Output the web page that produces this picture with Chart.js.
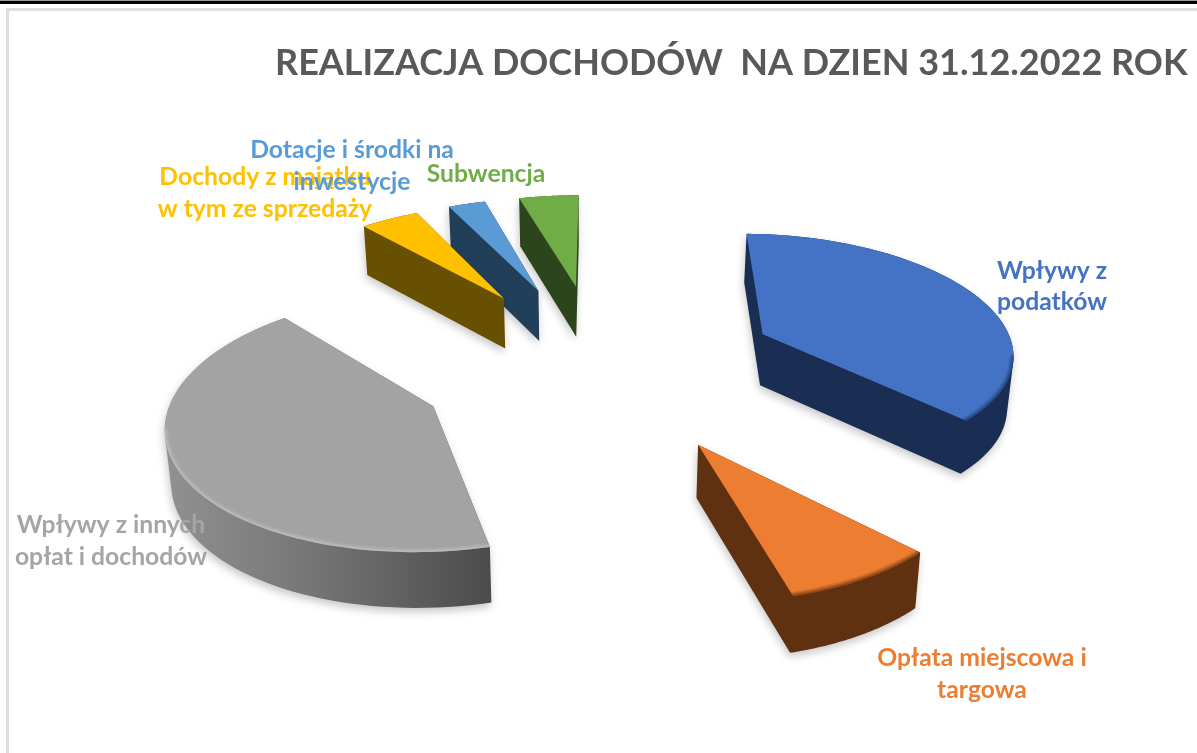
<!DOCTYPE html>
<html lang="pl"><head><meta charset="utf-8"><title>Realizacja dochodów</title>
<script src="https://cdn.jsdelivr.net/npm/chart.js@4"></script>
<style>
html,body{margin:0;padding:0;background:#fff;width:1197px;height:753px;overflow:hidden}
#frame-top{position:absolute;left:0;top:0;width:1197px;height:4px;background:#000;border-top:1px solid #999;box-sizing:border-box}
#frame-in{position:absolute;left:6px;top:8px;width:1191px;height:745px;border-left:3px solid #dedede;border-top:3px solid #dedede;box-sizing:border-box}
canvas{position:absolute;left:0;top:0}
</style></head><body>
<div id="frame-top"></div><div id="frame-in"></div>
<canvas id="c" width="1197" height="753"></canvas>
<script>
const chartTitle = 'REALIZACJA DOCHODÓW  NA DZIEN 31.12.2022 ROK';
const categories = ['Wpływy z podatków','Opłata miejscowa i targowa','Wpływy z innych opłat i dochodów','Dochody z majątku w tym ze sprzedaży','Dotacje i środki na inwestycje','Subwencja'];
const values = [37.4, 8.3, 42.5, 4.4, 2.8, 4.5];
const topColors = ['#4472c4','#ed7d31','#a3a3a3','#ffc000','#5b9bd5','#70ad47'];
const sideColors = ['#1a2d52','#5f3110',null,'#675000','#223f59','#2c451c'];
const bevelColors = ['#22396a','#6a3510','#c4c4c4',null,null,null];
const labelLines = [['Wpływy z','podatków'],['Opłata miejscowa i','targowa'],['Wpływy z innych','opłat i dochodów'],['Dochody z majątku','w tym ze sprzedaży'],['Dotacje i środki na','inwestycje'],['Subwencja']];
const labelColors = ['#4472c4','#ed7d31','#a5a5a5','#ffc000','#5b9bd5','#70ad47'];
const labelAnchors = [[1052,271,31],[982,658,32],[111,525,32],[265,177,32],[352,150,32],[486,174,0]];
const labelOrder = [0,1,2,3,5,4];
const explosion = 0.71748;           // offset as a share of the radius
const rotationDeg = 15.99;
// view of the pie's plane, in radius units
const view = {a:262.219,b:2.880,cx:599.468,c:-20.008,d:73.879,cy:364.861,q:0.03036,p:-0.11113};
const depthConverge = 0.015, depthCx = 590;

const project = (u,v)=>{const w=1+view.q*u+view.p*v;return [(view.a*u+view.b*v+view.cx)/w,(view.c*u+view.d*v+view.cy)/w];};
const lower = ([x,y])=>[x-(x-depthCx)*depthConverge,y+48+(y-200)*0.022];
function hull(pts){
  const s=pts.slice().sort((a,b)=>a[0]-b[0]||a[1]-b[1]);
  const cr=(o,a,b)=>(a[0]-o[0])*(b[1]-o[1])-(a[1]-o[1])*(b[0]-o[0]);
  const lo=[],up=[];
  for(const p of s){while(lo.length>1&&cr(lo[lo.length-2],lo[lo.length-1],p)<=0)lo.pop();lo.push(p);}
  for(const p of s.slice().reverse()){while(up.length>1&&cr(up[up.length-2],up[up.length-1],p)<=0)up.pop();up.push(p);}
  return lo.slice(0,-1).concat(up.slice(0,-1));
}
const trace=(ctx,pts)=>{ctx.beginPath();pts.forEach((p,i)=>i?ctx.lineTo(p[0],p[1]):ctx.moveTo(p[0],p[1]));ctx.closePath();};

const pie3d = {
  id:'pie3d',
  afterLayout(chart){ chart.titleBlock.left=275; chart.titleBlock.top=42; },
  beforeDatasetDraw(chart,args){
    const ctx=chart.ctx, arcs=args.meta.data;
    for(let i=arcs.length-1;i>=0;i--){
      const el=arcs[i], R=el.outerRadius, s=el.startAngle, e=el.endAngle, mid=(s+e)/2;
      const off=el.options.offset/4/R, au=Math.cos(mid)*off, av=Math.sin(mid)*off;
      const apex=project(au,av), rim=[], n=72;
      for(let k=0;k<=n;k++){const t=s+(e-s)*k/n;rim.push(project(au+Math.cos(t),av+Math.sin(t)));}
      const face=[apex,...rim], bottom=face.map(lower), outline=hull(face.concat(bottom));
      let side=sideColors[i];
      if(!side){side=ctx.createLinearGradient(160,0,492,0);side.addColorStop(0,'#929292');side.addColorStop(.45,'#767676');side.addColorStop(1,'#4b4b4b');}
      ctx.save();
      ctx.shadowColor='rgba(0,0,0,.22)';ctx.shadowBlur=9;ctx.shadowOffsetY=4;ctx.shadowOffsetX=-1;
      ctx.fillStyle=side;trace(ctx,outline);ctx.fill();
      ctx.restore();
      ctx.save();
      ctx.fillStyle=topColors[i];trace(ctx,face);ctx.fill();
      if(bevelColors[i]){
        ctx.clip();ctx.strokeStyle=bevelColors[i];ctx.lineCap='round';
        [[9,.18],[6,.3],[3,.5]].forEach(([w,al])=>{
          ctx.lineWidth=w;ctx.globalAlpha=al;ctx.beginPath();
          for(let k=1;k<rim.length;k++){if(rim[k][0]<rim[k-1][0]){ctx.moveTo(rim[k-1][0],rim[k-1][1]);ctx.lineTo(rim[k][0],rim[k][1]);}}
          ctx.stroke();
        });
      }
      ctx.restore();
    }
    return false;
  },
  afterDatasetsDraw(chart){
    const ctx=chart.ctx;ctx.save();
    ctx.font='bold 24.7px Lato';ctx.textAlign='center';ctx.textBaseline='middle';
    labelOrder.forEach(i=>{
      const [x,y,gap]=labelAnchors[i];ctx.fillStyle=labelColors[i];
      labelLines[i].forEach((t,j)=>ctx.fillText(t,x,y+j*gap));
    });
    ctx.restore();
  }
};

new Chart(document.getElementById('c'),{
  type:'pie',
  plugins:[pie3d],
  data:{labels:categories,datasets:[{data:values,backgroundColor:topColors,borderWidth:0,
    offset:c=>{const A=c.chart.chartArea,M=A?Math.min(A.width,A.height):700;const k=4*explosion;return k*M/(2+k);},hoverOffset:0}]},
  options:{responsive:false,animation:false,rotation:rotationDeg,
    plugins:{legend:{display:false},tooltip:{enabled:false},
      title:{display:true,text:chartTitle,align:'start',color:'#595959',font:{family:'Lato',weight:'bold',size:36},padding:0}}}
});
</script></body></html>
